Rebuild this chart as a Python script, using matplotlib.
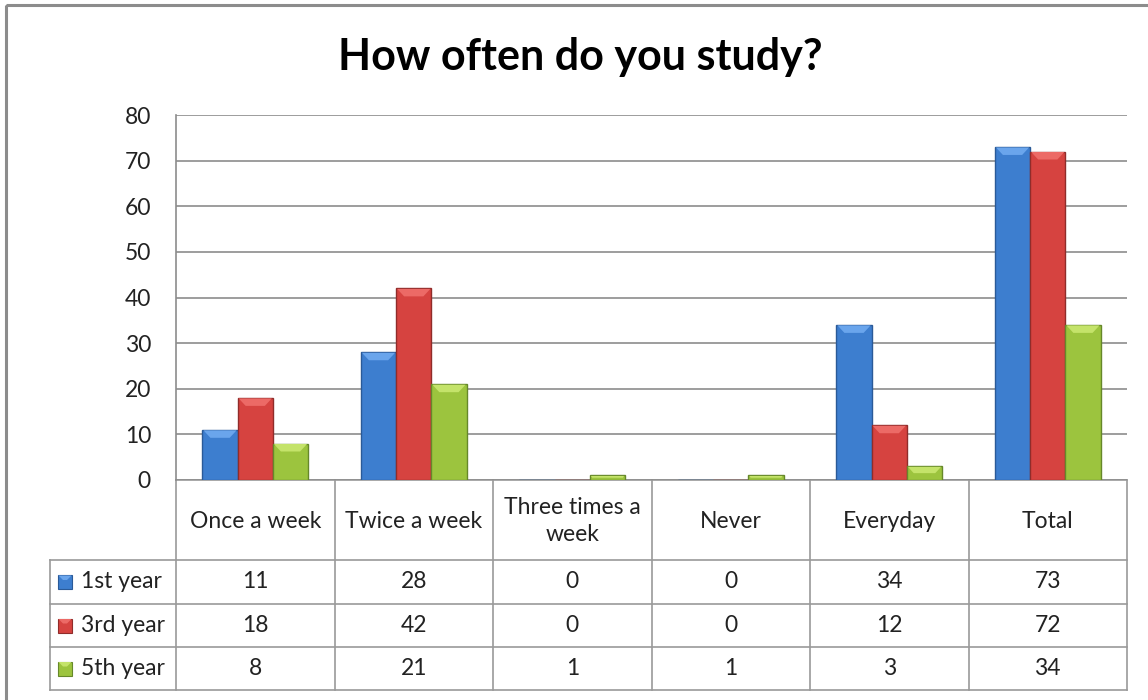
import matplotlib
matplotlib.use("Agg")
import matplotlib.pyplot as plt
from matplotlib.patches import Rectangle, Polygon
import numpy as np

categories = ["Once a week", "Twice a week", "Three times a\nweek", "Never", "Everyday", "Total"]
series_names = ["1st year", "3rd year", "5th year"]
first_year = [11, 28, 0, 0, 34, 73]
third_year = [18, 42, 0, 0, 12, 72]
fifth_year = [8, 21, 1, 1, 3, 34]
yticks = [0, 10, 20, 30, 40, 50, 60, 70, 80]
title = "How often do you study?"

fills = ["#3D7ECF", "#D64340", "#9CC43E"]
tops = ["#6AA5EC", "#EC6A66", "#C4E36A"]
edges = ["#2A5A98", "#902C2A", "#66882A"]

FONT = ["Lato", "DejaVu Sans"]
plt.rcParams['font.family'] = FONT
FS = 16.5

W, H = 1148, 700
fig = plt.figure(figsize=(W / 100, H / 100), dpi=100)

# overlay axes in pixel coordinates for frame + table
ov = fig.add_axes([0, 0, 1, 1])
ov.set_xlim(0, W)
ov.set_ylim(H, 0)
ov.axis("off")
ov.add_patch(Rectangle((6, 5), W + 10, H + 10, fill=False, ec="#8C8C8C", lw=2.2))

L, R, T, B = 176, 1127, 115, 480
ax = fig.add_axes([L / W, 1 - B / H, (R - L) / W, (B - T) / H])
ax.set_zorder(2)
ax.patch.set_alpha(0)
n = len(categories)
ax.set_xlim(-0.5, n - 0.5)
ax.set_ylim(0, 80)
ax.set_yticks(yticks)
ax.set_yticklabels([str(v) for v in yticks], fontsize=FS, color="#222222")
ax.tick_params(axis="y", length=0, pad=18)
ax.set_xticks([])
ax.yaxis.grid(True, color="#8C8C8C", lw=1.2)
ax.set_axisbelow(True)
for s in ["top", "right", "bottom"]:
    ax.spines[s].set_visible(False)
ax.spines["left"].set_color("#8C8C8C")
ax.spines["left"].set_linewidth(1.2)

data = [first_year, third_year, fifth_year]
bw = 1 / 4.5
x = np.arange(n)
fig.canvas.draw()
to_px = ax.transData
inv = ax.transData.inverted()
for k, vals in enumerate(data):
    bars = ax.bar(x + (k - 1) * bw, vals, bw, color=fills[k], edgecolor=edges[k], lw=1.0, zorder=3)
    for b in bars:
        h = b.get_height()
        if h <= 0:
            continue
        x0, x1 = b.get_x(), b.get_x() + b.get_width()
        (px0, py0) = to_px.transform((x0, h))
        (px1, _) = to_px.transform((x1, h))
        inset = min(8, (to_px.transform((0, h))[1] - to_px.transform((0, 0))[1]) * 0.5)
        pts_px = [(px0 + 1, py0 - 0.5), (px1 - 1, py0 - 0.5), (px1 - inset, py0 - inset), (px0 + inset, py0 - inset)]
        pts = inv.transform(pts_px)
        ax.add_patch(Polygon(pts, closed=True, color=tops[k], lw=0, zorder=4))

ov.text(580, 57, title, fontsize=31, fontweight="bold", ha="center", va="center", color="#000000")

# ---- data table ----
grid_c = "#9A9A9A"
col_w = (R - L) / n
col_edges = [L + i * col_w for i in range(n + 1)]
row_y = [B, 560, 604, 647, 690]
legend_left = 50
lw = 1.2
ov.plot([L, R], [row_y[0], row_y[0]], color=grid_c, lw=lw)
for yy in row_y[1:]:
    ov.plot([legend_left, R], [yy, yy], color=grid_c, lw=lw)
for xx in col_edges:
    ov.plot([xx, xx], [row_y[0], row_y[-1]], color=grid_c, lw=lw)
ov.plot([legend_left, legend_left], [row_y[1], row_y[-1]], color=grid_c, lw=lw)

for i, c in enumerate(categories):
    cx = (col_edges[i] + col_edges[i + 1]) / 2
    ov.text(cx, (row_y[0] + row_y[1]) / 2 + 1, c, fontsize=FS, ha="center", va="center",
            color="#222222", linespacing=1.35)

for r, (name, vals) in enumerate(zip(series_names, data)):
    cy = (row_y[r + 1] + row_y[r + 2]) / 2
    ov.add_patch(Rectangle((58, cy - 7), 14, 14, fc=fills[r], ec=edges[r], lw=0.8))
    ov.add_patch(Polygon([(58.5, cy - 6.5), (71.5, cy - 6.5), (67, cy - 2), (63, cy - 2)], color=tops[r], lw=0))
    ov.text(81, cy, name, fontsize=FS, ha="left", va="center", color="#222222")
    for i, v in enumerate(vals):
        cx = (col_edges[i] + col_edges[i + 1]) / 2
        ov.text(cx, cy, str(v), fontsize=FS, ha="center", va="center", color="#222222")

fig.savefig("out.png", dpi=100)
